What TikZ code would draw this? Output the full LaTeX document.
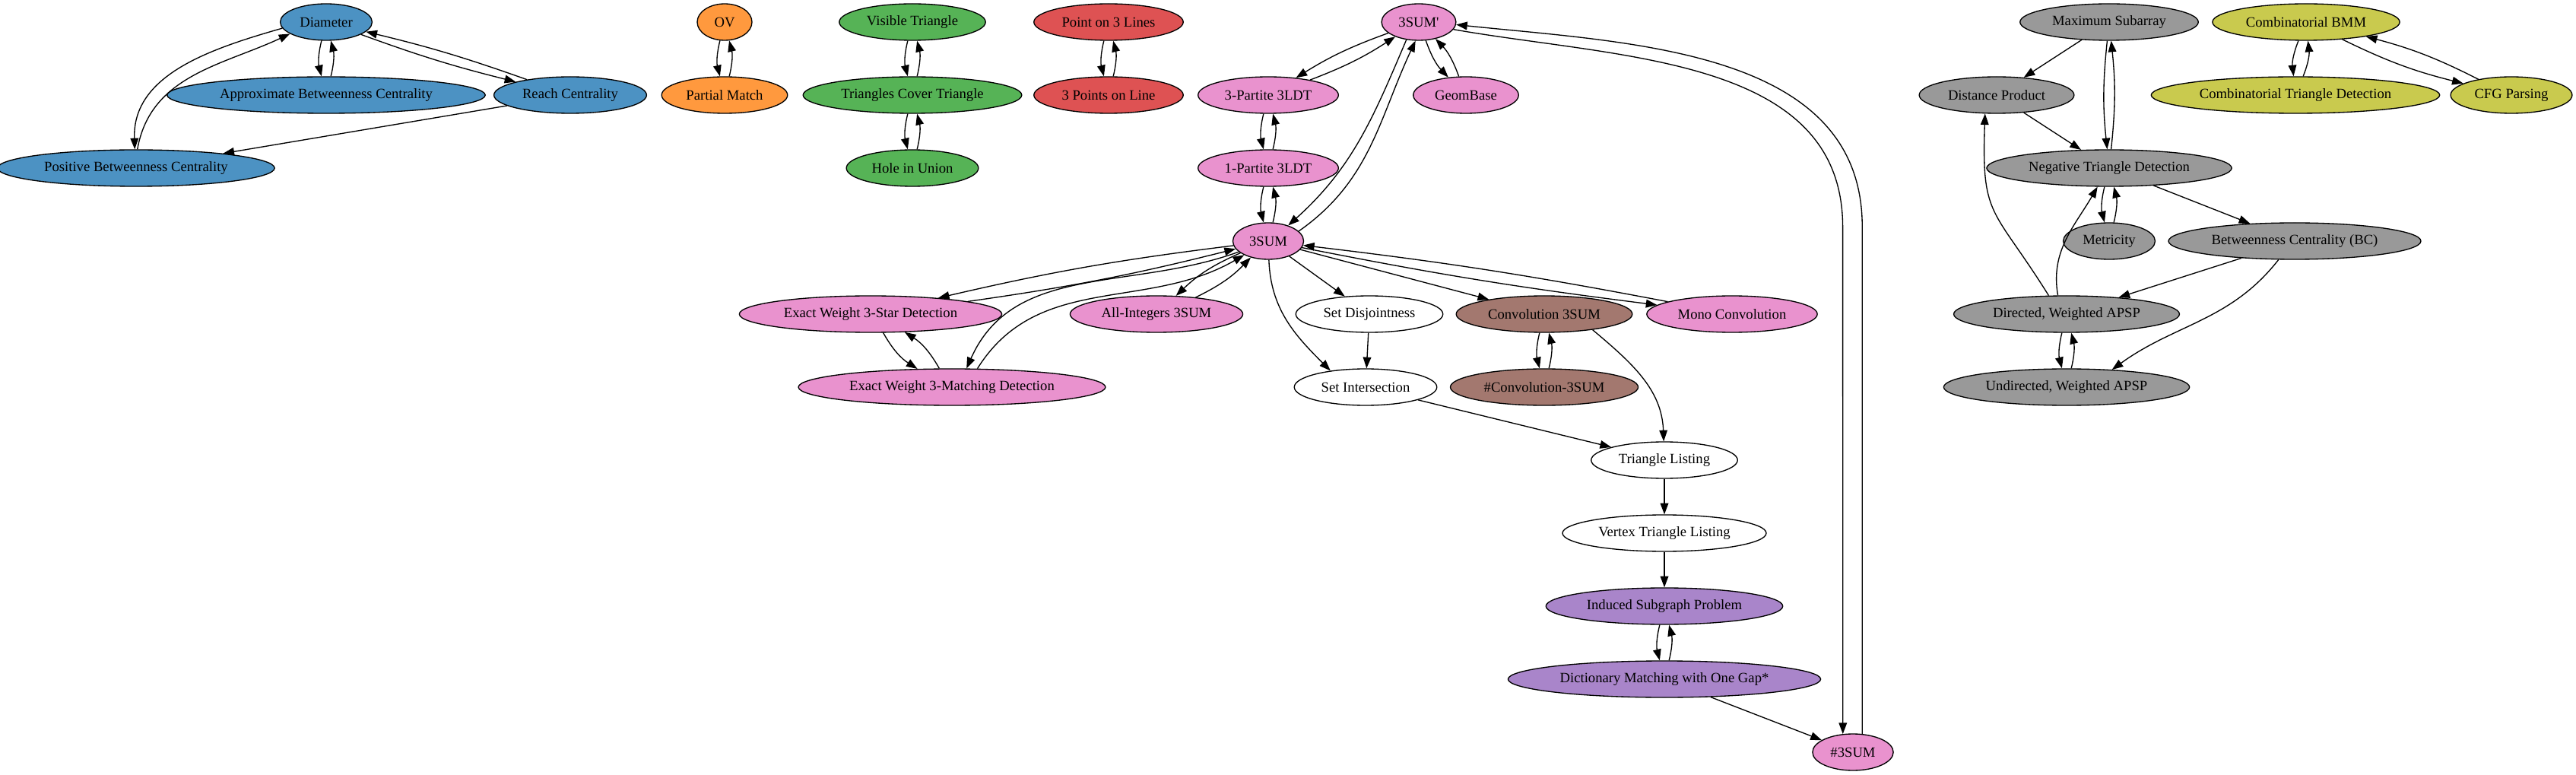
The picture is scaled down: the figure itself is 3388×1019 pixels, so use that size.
\documentclass[tikz,border=0pt]{standalone}
\usepackage{fontspec}
\setmainfont{Liberation Serif}
\usepackage{tikz}
\usetikzlibrary{positioning}
\usetikzlibrary{arrows.meta,shapes.geometric}

\definecolor{cBlue}{RGB}{76,146,195}
\definecolor{cOrange}{RGB}{255,153,62}
\definecolor{cGreen}{RGB}{86,179,86}
\definecolor{cRed}{RGB}{222,82,83}
\definecolor{cPurple}{RGB}{169,133,202}
\definecolor{cBrown}{RGB}{163,120,111}
\definecolor{cPink}{RGB}{233,146,206}
\definecolor{cGray}{RGB}{153,153,153}
\definecolor{cOlive}{RGB}{201,202,78}

\tikzset{
  prob/.style={ellipse,draw,inner xsep=6pt,inner ysep=0pt,minimum height=36pt,minimum width=54pt,
               font=\fontsize{14pt}{16pt}\selectfont},
  twoway/.style={bend right=#1},
  twoway/.default=14
}

\begin{document}
\begin{tikzpicture}[>={Triangle[length=11pt,width=8pt]},line width=1pt,x=0.75pt,y=0.75pt,node distance=72pt]
  \useasboundingbox (0,0) rectangle (3388,-1019);

  \node[prob,fill=cBlue]   (Diameter)      at (429,-29)            {Diameter};
  \node[prob,fill=cBlue]   (ApproxBC)      [below of=Diameter]     {Approximate Betweenness Centrality};
  \node[prob,fill=cBlue]   (Reach)         at (750,-125)           {Reach Centrality};
  \node[prob,fill=cBlue]   (PosBC)         at (179,-221)           {Positive Betweenness Centrality};

  \node[prob,fill=cOrange] (OV)            at (953,-29)            {OV};
  \node[prob,fill=cOrange] (PartialMatch)  [below of=OV]           {Partial Match};

  \node[prob,fill=cGreen]  (VisTri)        at (1200,-29)           {Visible Triangle};
  \node[prob,fill=cGreen]  (TriCover)      [below of=VisTri]       {Triangles Cover Triangle};
  \node[prob,fill=cGreen]  (HoleUnion)     [below of=TriCover]     {Hole in Union};

  \node[prob,fill=cRed]    (PointLines)    at (1458,-29)           {Point on 3 Lines};
  \node[prob,fill=cRed]    (PointsLine)    [below of=PointLines]   {3 Points on Line};

  \node[prob,fill=cPink]   (SumP)          at (1866,-29)           {3SUM\textquotesingle};
  \node[prob,fill=cPink]   (Partite3)      at (1668,-125)          {3-Partite 3LDT};
  \node[prob,fill=cPink]   (Partite1)      [below of=Partite3]     {1-Partite 3LDT};
  \node[prob,fill=cPink]   (Sum)           [below of=Partite1]     {3SUM};
  \node[prob,fill=cPink]   (GeomBase)      at (1928,-125)          {GeomBase};
  \node[prob,fill=cPink]   (StarDet)       at (1145,-413)          {Exact Weight 3-Star Detection};
  \node[prob,fill=cPink]   (MatchDet)      at (1252,-509)          {Exact Weight 3-Matching Detection};
  \node[prob,fill=cPink]   (AllInt)        at (1521,-413)          {All-Integers 3SUM};
  \node[prob]              (SetDisj)       at (1801,-413)          {Set Disjointness};
  \node[prob]              (SetInt)        at (1796,-509)          {Set Intersection};
  \node[prob,fill=cBrown]  (ConvSum)       at (2031,-413)          {Convolution 3SUM};
  \node[prob,fill=cBrown]  (CountConv)     [below of=ConvSum]      {\#Convolution-3SUM};
  \node[prob,fill=cPink]   (MonoConv)      at (2278,-413)          {Mono Convolution};
  \node[prob]              (TriList)       at (2189,-605)          {Triangle Listing};
  \node[prob]              (VertexTriList) [below of=TriList]      {Vertex Triangle Listing};
  \node[prob,fill=cPurple] (InducedSub)    [below of=VertexTriList] {Induced Subgraph Problem};
  \node[prob,fill=cPurple] (DictMatch)     [below of=InducedSub]   {Dictionary Matching with One Gap*};
  \node[prob,fill=cPink]   (CountSum)      at (2437,-989)          {\#3SUM};

  \node[prob,fill=cGray]   (MaxSub)        at (2774,-29)           {Maximum Subarray};
  \node[prob,fill=cGray]   (DistProd)      at (2626,-125)          {Distance Product};
  \node[prob,fill=cGray]   (NegTri)        at (2774,-221)          {Negative Triangle Detection};
  \node[prob,fill=cGray]   (Metricity)     [below of=NegTri]       {Metricity};
  \node[prob,fill=cGray]   (BC)            at (3018,-317)          {Betweenness Centrality (BC)};
  \node[prob,fill=cGray]   (DirAPSP)       at (2718,-413)          {Directed, Weighted APSP};
  \node[prob,fill=cGray]   (UndirAPSP)     [below of=DirAPSP]      {Undirected, Weighted APSP};

  \node[prob,fill=cOlive]  (CombBMM)       at (3033,-29)           {Combinatorial BMM};
  \node[prob,fill=cOlive]  (CombTri)       at (3019,-125)          {Combinatorial Triangle Detection};
  \node[prob,fill=cOlive]  (CFG)           at (3303,-125)          {CFG Parsing};

  \path[->]
     (Diameter) edge [twoway]                      (ApproxBC)
     (ApproxBC) edge [twoway]                      (Diameter)
     (Diameter) edge [twoway=3]                    (Reach)
        (Reach) edge [twoway=3]                    (Diameter)
 (Diameter.188) edge [out=196,in=92]               (PosBC.94)
     (PosBC.86) edge [out=80,in=205]               (Diameter.198)
        (Reach) edge                               (PosBC)
           (OV) edge [twoway]                      (PartialMatch)
 (PartialMatch) edge [twoway]                      (OV)
       (VisTri) edge [twoway]                      (TriCover)
     (TriCover) edge [twoway]                      (VisTri)
     (TriCover) edge [twoway]                      (HoleUnion)
    (HoleUnion) edge [twoway]                      (TriCover)
   (PointLines) edge [twoway]                      (PointsLine)
   (PointsLine) edge [twoway]                      (PointLines);

  \path[->]
         (SumP) edge [twoway=6]                    (Partite3)
     (Partite3) edge [twoway=6]                    (SumP)
     (Partite3) edge [twoway]                      (Partite1)
     (Partite1) edge [twoway]                      (Partite3)
     (Partite1) edge [twoway]                      (Sum)
          (Sum) edge [twoway]                      (Partite1)
         (SumP) edge [twoway=12]                   (GeomBase)
     (GeomBase) edge [twoway=12]                   (SumP)
   (SumP.-125) edge [out=-113,in=42]               (Sum.38)
       (Sum.18) edge [out=35,in=-115]              (SumP.-100)
          (Sum) edge [twoway=3]                    (StarDet)
      (StarDet) edge [twoway=3]                    (Sum)
          (Sum) edge [out=200,in=66]               (MatchDet.52)
  (MatchDet.36) edge [out=58,in=210]               (Sum)
      (StarDet) edge [twoway]                      (MatchDet)
     (MatchDet) edge [twoway]                      (StarDet)
          (Sum) edge [twoway=10]                   (AllInt)
       (AllInt) edge [twoway=10]                   (Sum)
          (Sum) edge                               (SetDisj)
          (Sum) edge [out=-88,in=135]              (SetInt.155)
          (Sum) edge                               (ConvSum)
          (Sum) edge [twoway=2]                    (MonoConv)
     (MonoConv) edge [twoway=2]                    (Sum)
      (SetDisj) edge                               (SetInt)
      (ConvSum) edge [twoway]                      (CountConv)
    (CountConv) edge [twoway]                      (ConvSum)
  (ConvSum.-18) edge [out=-40,in=92]               (TriList)
       (SetInt) edge                               (TriList)
      (TriList) edge                               (VertexTriList)
(VertexTriList) edge                               (InducedSub)
   (InducedSub) edge [twoway]                      (DictMatch)
    (DictMatch) edge [twoway]                      (InducedSub)
    (DictMatch) edge                               (CountSum);

  \draw[->] (SumP.-12) to[out=-10,in=90] ++(512,-260) -- (CountSum.119);
  \draw[->] (CountSum.63) -- ++(0,667) to[out=90,in=-6] (SumP.-4);

  \path[->]
       (MaxSub) edge                               (DistProd)
       (MaxSub) edge [twoway=6]                    (NegTri)
       (NegTri) edge [twoway=6]                    (MaxSub)
     (DistProd) edge                               (NegTri)
       (NegTri) edge [twoway]                      (Metricity)
    (Metricity) edge [twoway]                      (NegTri)
       (NegTri) edge                               (BC)
  (DirAPSP.134) edge [out=122,in=-92,looseness=1.4] (DistProd.-122)
  (DirAPSP.115) edge [out=100,in=-120]             (NegTri.-122)
           (BC) edge                               (DirAPSP)
      (BC.-131) edge [out=-128,in=36]              (UndirAPSP.21)
      (DirAPSP) edge [twoway]                      (UndirAPSP)
    (UndirAPSP) edge [twoway]                      (DirAPSP)
      (CombBMM) edge [twoway]                      (CombTri)
      (CombTri) edge [twoway]                      (CombBMM)
      (CombBMM) edge [twoway=6]                    (CFG)
          (CFG) edge [twoway=6]                    (CombBMM);
\end{tikzpicture}
\end{document}
